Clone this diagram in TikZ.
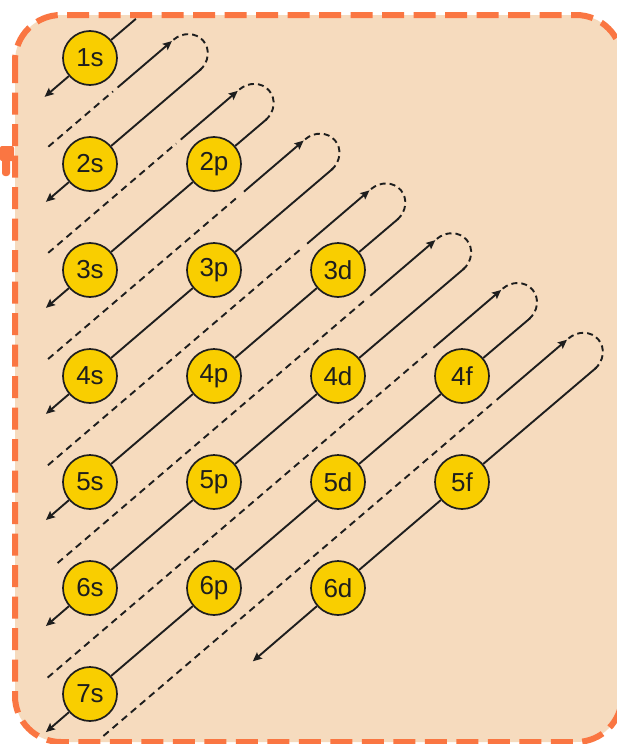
\documentclass[tikz,border=0pt]{standalone}
\usepackage{fontspec}
\setmainfont{Liberation Sans}
\usetikzlibrary{arrows.meta}
\definecolor{frameor}{RGB}{250,118,66}
\definecolor{peach}{RGB}{246,219,190}
\definecolor{gold}{RGB}{249,206,0}
\definecolor{ink}{RGB}{30,30,30}
\begin{document}
\begin{tikzpicture}[x=1pt,y=-1pt,
  orb/.style={circle, draw=ink, line width=1.7pt, fill=gold, minimum size=54pt, inner sep=0pt, font=\fontsize{26}{26}\selectfont, text=ink},
  solidline/.style={draw=ink, line width=1.9pt},
  dashline/.style={draw=ink, line width=1.9pt, dash pattern=on 7pt off 5pt},
  loopline/.style={draw=ink, line width=1.9pt, dash pattern=on 6pt off 4pt},
  arrowend/.style={-{Stealth[length=9pt,width=8pt,inset=1.5pt]}},
]
\useasboundingbox (0,0) rectangle (617,744);
\fill[white] (0,0) rectangle (617,744);
% small orange mark at the left
\fill[frameor, rounded corners=2pt] (0,146) rectangle (14,161);
\fill[frameor, rounded corners=3pt] (2,150) rectangle (10,176);
% frame
\fill[peach, rounded corners=46pt] (15,15) rectangle (622,742);
\draw[frameor, line width=6pt, rounded corners=46pt, dash pattern=on 22pt off 9.5pt] (15,15) rectangle (622,742);

% orbitals
\foreach \lbl/\c/\r in {1s/0/0, 2s/0/1, 2p/1/1, 3s/0/2, 3p/1/2, 3d/2/2,
  4s/0/3, 4p/1/3, 4d/2/3, 4f/3/3, 5s/0/4, 5p/1/4, 5d/2/4, 5f/3/4,
  6s/0/5, 6p/1/5, 6d/2/5, 7s/0/6}
  \node[orb] (o\lbl) at ({90+124*\c},{58+106*\r}) {\lbl};

\begin{scope}[x={(0.7603pt,0.6499pt)}, y={(0.6499pt,-0.7603pt)}]
  % start and end points of the diagonal lines (along, across)
  \coordinate (ds1) at (91,102.6);    \coordinate (de1) at (-29,102.6);
  \coordinate (ds2) at (108,183.2);   \coordinate (de2) at (-96.2,183.2);
  \coordinate (ds3) at (125.7,263.8); \coordinate (de3) at (-165.1,263.8);
  \coordinate (ds4) at (143.4,344.4); \coordinate (de4) at (-234,344.4);
  \coordinate (ds5) at (161.1,425.0); \coordinate (de5) at (-302.9,425.0);
  \coordinate (ds6) at (178.8,505.6); \coordinate (de6) at (-371.8,505.6);
  \coordinate (ds7) at (196.5,586.2); \coordinate (de7) at (-440.7,586.2);
  \coordinate (ds8) at (214.2,666.8); \coordinate (de8) at (-237.5,666.8);

  % diagonal lines through the orbitals
  \draw[solidline] (ds1) -- (o1s);
  \draw[solidline,arrowend] (o1s) -- (de1);
  \draw[solidline] (ds2) -- (o2s);
  \draw[solidline,arrowend] (o2s) -- (de2);
  \draw[solidline] (ds3) -- (o2p);
  \draw[solidline] (o2p) -- (o3s);
  \draw[solidline,arrowend] (o3s) -- (de3);
  \draw[solidline] (ds4) -- (o3p);
  \draw[solidline] (o3p) -- (o4s);
  \draw[solidline,arrowend] (o4s) -- (de4);
  \draw[solidline] (ds5) -- (o3d);
  \draw[solidline] (o3d) -- (o4p);
  \draw[solidline] (o4p) -- (o5s);
  \draw[solidline,arrowend] (o5s) -- (de5);
  \draw[solidline] (ds6) -- (o4d);
  \draw[solidline] (o4d) -- (o5p);
  \draw[solidline] (o5p) -- (o6s);
  \draw[solidline,arrowend] (o6s) -- (de6);
  \draw[solidline] (ds7) -- (o4f);
  \draw[solidline] (o4f) -- (o5d);
  \draw[solidline] (o5d) -- (o6p);
  \draw[solidline] (o6p) -- (o7s);
  \draw[solidline,arrowend] (o7s) -- (de7);
  \draw[solidline] (ds8) -- (o5f);
  \draw[solidline] (o5f) -- (o6d);
  \draw[solidline,arrowend] (o6d) -- (de8);

  % return lines and loops
  \foreach \k/\B/\S/\A in {1/-58.6/32.5/104, 2/-127.6/46.7/121.7, 3/-196.7/60.9/139.4,
      4/-265.8/75.1/157.1, 5/-322/89.3/174.8, 6/-404/103.5/192.5, 7/-399.5/117.7/210.2}{
    \pgfmathsetmacro\U{142.9+80.6*(\k-1)}
    \pgfmathsetmacro\M{\U+20.15}
    \pgfmathsetmacro\L{\U+40.3}
    \coordinate (ub\k) at (\B,\U);
    \coordinate (ud\k) at ({\S-6},\U);
    \coordinate (us\k) at (\S,\U);
    \coordinate (ua\k) at (\A,\U);
    \coordinate (la\k) at ({\A+2},\U);
    \coordinate (lm\k) at ({\A+24},\M);
    \coordinate (lb\k) at ({\A+2},\L);
    \draw[dashline] (ub\k) -- (ud\k);
    \draw[solidline,arrowend] (us\k) -- (ua\k);
    \draw[loopline] (la\k) .. controls +(12.15,0) and +(0,-11.13) .. (lm\k)
                           .. controls +(0,11.13) and +(12.15,0) .. (lb\k);
  }
\end{scope}
\end{tikzpicture}
\end{document}
